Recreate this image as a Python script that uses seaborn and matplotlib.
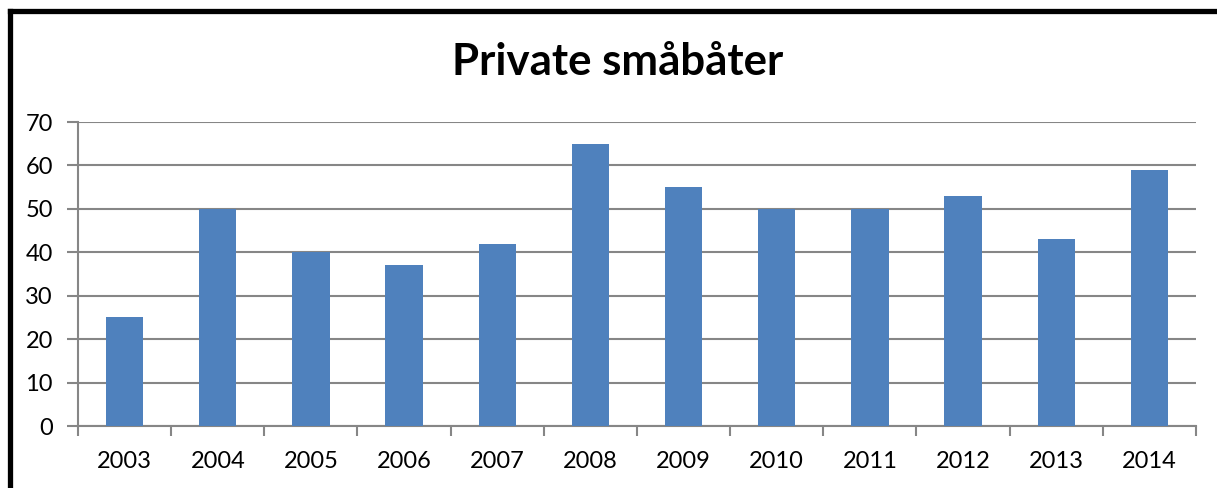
import matplotlib
matplotlib.use("Agg")
import matplotlib.pyplot as plt
import seaborn as sns
import pandas as pd
import numpy as np
from matplotlib.lines import Line2D

years = ["2003", "2004", "2005", "2006", "2007", "2008",
         "2009", "2010", "2011", "2012", "2013", "2014"]
counts = [25, 50, 40, 37, 42, 65, 55, 50, 50, 53, 43, 59]
yticks = [0, 10, 20, 30, 40, 50, 60, 70]
title = "Private småbåter"

df = pd.DataFrame({"year": years, "count": counts})

sns.set_style("white")
plt.rcParams["font.family"] = ["Lato", "DejaVu Sans"]

grey = "#868686"
fig = plt.figure(figsize=(12.17, 4.88), dpi=100)
ax = fig.add_axes([0.0641, 0.127, 0.9186, 0.623])

sns.barplot(data=df, x="year", y="count", color="#4F81BD", width=0.4,
            saturation=1, linewidth=0, ax=ax, zorder=3)

ax.set_ylim(0, 70)
ax.set_xlim(-0.5, len(years) - 0.5)
ax.set_yticks(yticks)
ax.yaxis.grid(True, color=grey, linewidth=1.5, zorder=0)
ax.set_axisbelow(True)
ax.set_xlabel("")
ax.set_ylabel("")

for s in ["top", "right"]:
    ax.spines[s].set_visible(False)
for s in ["left", "bottom"]:
    ax.spines[s].set_color(grey)
    ax.spines[s].set_linewidth(1.5)

ax.tick_params(axis="y", length=8, width=1.5, color=grey, labelsize=17,
               labelcolor="black", pad=10, left=True)
ax.tick_params(axis="x", which="major", length=0, labelsize=17,
               labelcolor="black", pad=18)
ax.set_xticks(np.arange(-0.5, len(years), 1.0), minor=True)
ax.tick_params(axis="x", which="minor", length=7, width=1.5, color=grey,
               bottom=True)

fig.text(618 / 1217, 1 - 62 / 488, title, ha="center", va="center",
         fontsize=31.5, fontweight="bold", color="black")

# outer frame (top and left edges visible)
fig.add_artist(Line2D([9.5 / 1217, 9.5 / 1217], [-0.05, 1 - 10.5 / 488],
                      transform=fig.transFigure, color="black", linewidth=3.8,
                      solid_capstyle="projecting"))
fig.add_artist(Line2D([9.5 / 1217, 1.05], [1 - 10.5 / 488, 1 - 10.5 / 488],
                      transform=fig.transFigure, color="black", linewidth=3.8,
                      solid_capstyle="projecting"))

fig.savefig("out.png", dpi=100)
